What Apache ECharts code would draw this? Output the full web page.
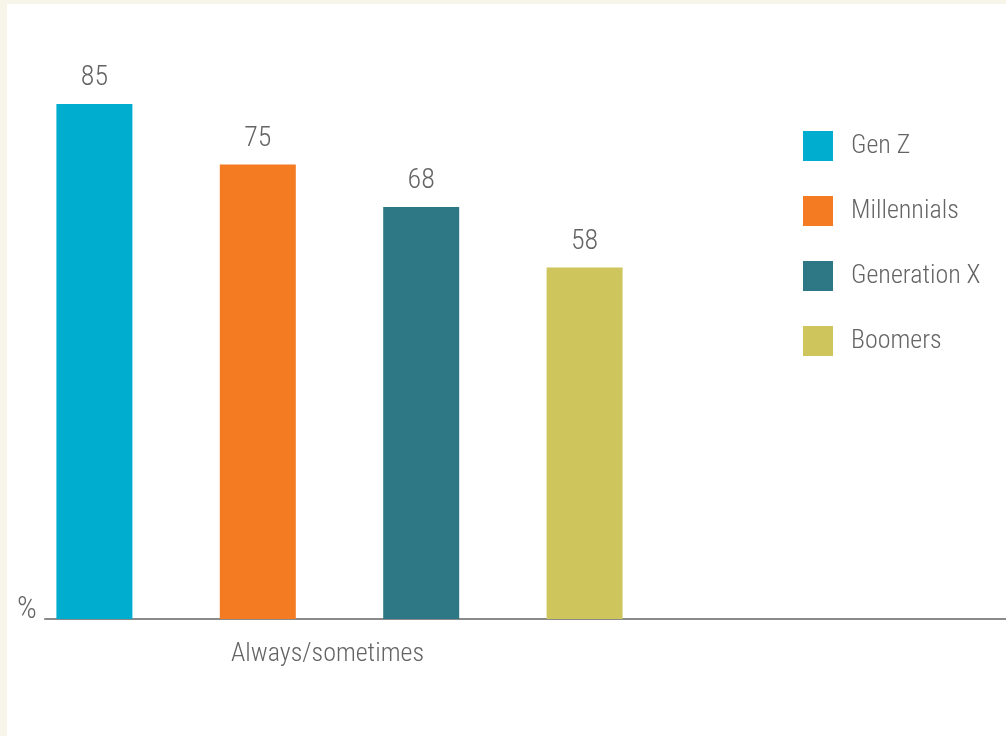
<!DOCTYPE html>
<html>
<head>
<meta charset="utf-8">
<script src="https://cdn.jsdelivr.net/npm/echarts@6/dist/echarts.min.js"></script>
<style>
  html, body { margin: 0; padding: 0; background: #f7f5e9; }
  #chart { position: absolute; left: 7px; top: 4px; width: 999px; height: 732px; background: #ffffff; }
</style>
</head>
<body>
<div id="chart"></div>
<script>
// Share of each generation answering "Always/sometimes" (%)
const categories = ['Always/sometimes'];
const seriesNames = ['Gen Z', 'Millennials', 'Generation X', 'Boomers'];
const genZ = [85];
const millennials = [75];
const genX = [68];
const boomers = [58];
const seriesValues = [genZ, millennials, genX, boomers];
const colors = ['#00adcf', '#f47b21', '#2e7886', '#cec55d'];

const FONT = '"Noto Sans ExtraCondensed", "Noto Sans Condensed", "Roboto Condensed", "Open Sans Condensed", "DejaVu Sans Condensed", "Liberation Sans Narrow", Roboto, sans-serif';
const TEXT = '#646464';
const FS = 26;

const chart = echarts.init(document.getElementById('chart'));

const series = seriesNames.map((name, i) => ({
  name: name,
  type: 'bar',
  xAxisIndex: 0,
  yAxisIndex: 0,
  data: seriesValues[i],
  barWidth: 76,
  barGap: '115%',
  itemStyle: { color: colors[i] },
  label: {
    show: true,
    position: 'top',
    distance: 12,
    color: TEXT,
    fontFamily: FONT,
    fontWeight: 300,
    fontSize: 28,
    lineHeight: 28
  }
}));

chart.setOption({
  animation: false,
  title: {
    text: '%',
    left: 10,
    top: 591,
    padding: 0,
    textStyle: { color: TEXT, fontFamily: FONT, fontSize: 31, fontWeight: 300 }
  },
  legend: {
    orient: 'vertical',
    left: 796,
    top: 127,
    itemWidth: 30,
    itemHeight: 30,
    itemGap: 35,
    icon: 'rect',
    padding: 0,
    data: seriesNames,
    textStyle: { color: TEXT, fontFamily: FONT, fontSize: FS, fontWeight: 300, padding: [4, 0, 0, 13] }
  },
  grid: [
    { left: 38, width: 589, top: 9, bottom: 117, containLabel: false },
    { left: 38, right: 0, top: 9, bottom: 117, containLabel: false }
  ],
  xAxis: [
    {
      type: 'category',
      gridIndex: 0,
      data: categories,
      axisLine: { show: false },
      axisTick: { show: false },
      axisLabel: {
        color: TEXT,
        fontFamily: FONT,
        fontWeight: 300,
        fontSize: FS,
        margin: 22,
        padding: [0, 24, 0, 0]
      }
    },
    {
      type: 'category',
      gridIndex: 1,
      data: [''],
      axisLine: { show: true, lineStyle: { color: '#8a8a8a', width: 2 } },
      axisTick: { show: false },
      axisLabel: { show: false }
    }
  ],
  yAxis: [
    { type: 'value', gridIndex: 0, min: 0, max: 100, show: false },
    { type: 'value', gridIndex: 1, min: 0, max: 100, show: false }
  ],
  series: series
});
</script>
</body>
</html>
